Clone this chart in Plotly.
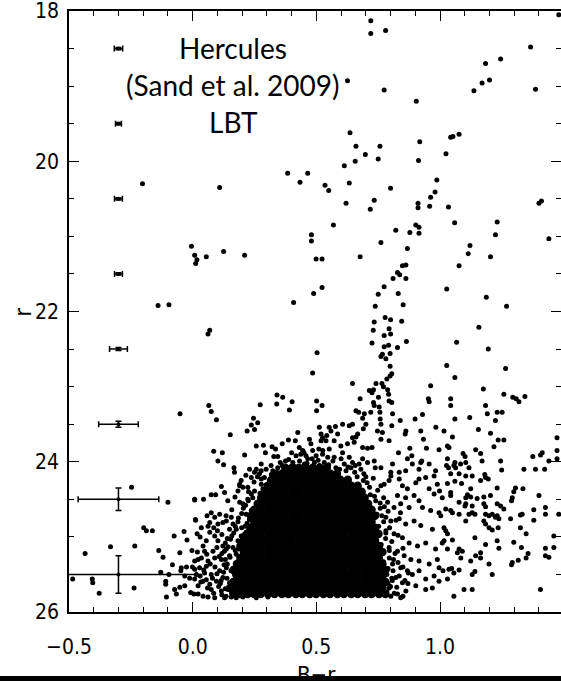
import plotly.graph_objects as go

# ---------------- data: (B-r, r) ----------------
upper_stars = [
(1.48,18.05),(0.72,18.13),(0.72,18.30),(0.78,18.26),(1.366,18.48),(1.245,18.64),(1.184,18.70),(1.20,18.92),(1.17,18.96),(1.137,19.06),(1.386,19.04),(0.626,18.93),(0.774,19.05),(0.904,19.20),
(0.636,19.62),(0.66,19.80),(0.757,19.80),(0.918,19.74),(1.043,19.68),(1.052,19.67),(1.077,19.64),(0.698,19.91),(0.657,20.00),(0.75,19.97),(0.913,19.99),(1.024,19.90),(0.613,20.06),
(0.384,20.16),(0.465,20.16),(0.434,20.28),(0.535,20.32),(0.55,20.39),(0.633,20.29),(0.80,20.36),(0.987,20.25),(0.98,20.41),(0.962,20.48),(0.958,20.60),(0.911,20.56),(0.911,20.62),(1.034,20.61),(0.734,20.52),(0.718,20.64),(0.62,20.56),(0.109,20.35),(1.40,20.56),(1.41,20.53),(1.44,21.03),
(0.569,20.85),(0.48,20.98),(0.48,21.06),(0.821,20.92),(0.878,20.95),(0.902,20.85),(0.915,20.88),(0.915,20.96),(1.059,20.82),(1.231,20.81),(1.224,20.98),(0.761,21.08),(0.868,21.16),(1.121,21.12),(1.114,21.23),(1.204,21.27),(0.677,21.27),(0.499,21.30),(0.523,21.30),(0.21,21.25),(0.125,21.20),(0.055,21.27),(-0.005,21.13),(0.008,21.25),(0.017,21.31),(0.012,21.36),
(1.077,21.39),(0.848,21.39),(0.862,21.38),(0.828,21.48),(0.837,21.51),(0.81,21.56),(0.862,21.56),(0.774,21.67),(0.831,21.76),(0.75,21.77),(0.523,21.68),(0.489,21.76),(1.027,21.70),(1.187,21.81),(0.408,21.88),(0.851,21.91),(0.738,21.93),(1.269,21.93),
(0.734,22.14),(0.73,22.25),(0.778,22.08),(0.80,22.11),(0.794,22.23),(0.80,22.30),(0.845,22.13),(0.774,22.32),(1.157,22.21),(0.069,22.25),(0.062,22.30),(-0.203,20.30),(-0.14,21.92),(-0.096,21.91),
]

middle_stars = [
(0.503,22.55),(0.485,22.82),(0.341,23.11),(0.364,23.14),(0.34,23.23),(0.402,23.20),(0.391,23.31),(0.501,23.19),(0.501,23.32),(0.523,23.25),(0.273,23.24),(0.065,23.25),(0.075,23.33),(0.096,23.44),(0.246,23.42),(0.237,23.51),(0.263,23.48),(0.25,23.57),(0.22,23.59),(0.152,23.64),(0.425,23.61),(0.387,23.71),(0.415,23.72),(0.362,23.76),(0.257,23.79),(0.286,23.78),(0.294,23.88),(0.321,23.80),(0.335,23.83),(0.328,23.93),(0.085,23.86),(0.12,23.88),(0.102,23.99),(0.125,24.04),(0.21,23.91),(0.167,24.08),(0.169,24.14),(0.344,23.93),(0.354,24.01),(0.375,23.99),(0.317,24.05),(0.472,23.70),(0.478,23.76),(0.519,23.72),(0.525,23.68),(0.542,23.65),(0.431,23.81),(0.445,23.85),(0.418,23.92),(0.458,23.92),(0.485,23.85),(0.257,24.10),(0.277,24.12),
(0.725,22.42),(0.774,22.47),(0.792,22.45),(0.828,22.48),(0.864,22.40),(1.067,22.41),(0.767,22.57),(0.761,22.60),(0.781,22.63),(0.798,22.56),(0.798,22.73),(0.805,22.83),(0.798,22.86),(0.785,22.90),(1.027,22.72),(1.06,22.88),(0.646,22.96),(0.741,22.96),(0.765,22.96),(0.771,23.00),(0.714,23.05),(0.725,23.08),(0.731,23.04),(0.788,23.04),(0.792,23.10),(0.751,23.14),(0.731,23.21),(0.734,23.25),(0.677,23.16),(0.962,22.99),(0.953,23.16),(0.956,23.20),(1.043,23.16),(1.043,23.25),(0.794,23.19),(0.805,23.21),(0.66,23.32),(0.671,23.34),(0.694,23.36),(0.72,23.34),(0.754,23.27),(0.757,23.34),(0.758,23.43),(0.761,23.50),(0.808,23.36),(0.805,23.52),(0.839,23.45),(0.899,23.43),(0.929,23.37),(1.06,23.43),(0.687,23.42),(0.70,23.50),(0.69,23.56),(0.606,23.50),(0.577,23.53),(0.552,23.54),(0.633,23.52),(0.646,23.50),(0.512,23.54),(0.519,23.63),(0.747,23.59),(0.767,23.61),(0.761,23.70),(0.794,23.72),(0.862,23.59),(0.859,23.63),(0.922,23.59),(0.933,23.70),(0.983,23.54),(1.016,23.59),(1.05,23.67),(1.03,23.79),(1.036,23.81),(0.996,23.84),(0.945,23.82),(0.878,23.82),(0.886,23.92),(0.832,23.88),(0.926,23.99),(0.922,24.01),(1.03,23.96),(1.034,24.08),(1.06,24.01),(1.056,24.05),(0.646,23.68),(0.66,23.67),(0.653,23.74),(0.687,23.81),(0.707,23.82),(0.725,23.81),(0.687,23.96),(0.673,24.03),(0.734,23.99),(0.761,24.08),(0.738,24.08),(0.646,24.01),(0.64,24.08),(0.657,24.05),
(0.539,23.72),(0.559,23.59),(0.572,23.72),(0.586,23.63),(0.599,23.79),(0.552,23.83),(0.525,23.90),(0.572,23.94),(0.606,23.88),(0.626,23.76),(0.667,23.63),(0.633,23.94),(0.539,24.08),(0.579,24.08),(0.613,24.03),(0.707,24.01),
(0.801,24.14),(0.835,24.14),(0.861,24.12),(0.888,24.03),(0.915,24.10),(0.956,24.03),(0.982,24.12),(0.808,24.03),(0.868,23.96),
(0.237,24.21),(0.277,24.23),(0.31,24.25),(0.344,24.21),(0.19,24.30),(0.223,24.34),(0.25,24.39),(0.284,24.36),(0.324,24.34),(0.351,24.39),
(0.277,24.03),(0.297,24.10),(0.324,24.12),(0.344,24.08),(0.371,24.12),(0.391,24.08),(0.405,24.01),(0.432,23.99),(0.452,24.03),(0.472,24.08),(0.492,24.01),(0.512,24.05),(0.532,24.01),(0.546,23.94),(0.526,23.85),(0.499,23.92),(0.465,23.96),(0.445,24.12),(0.418,24.14),(0.519,24.14),(0.539,24.12),(0.25,24.14),(0.23,24.10),
]

right_stars = [
(1.026,24.05),(1.063,24.08),(1.083,24.03),(1.117,24.08),(1.181,24.17),
(1.195,22.50),(1.265,22.76),(1.175,23.03),(1.258,23.10),(1.294,23.14),(1.308,23.16),(1.319,23.20),(1.343,23.13),(1.184,23.25),(1.231,23.34),(1.251,23.34),(1.191,23.36),(1.224,23.45),(1.12,23.41),(1.155,23.57),(1.204,23.62),(1.235,23.71),(1.258,23.71),(1.218,23.80),(1.473,23.68),(1.144,23.84),(1.164,23.89),(1.093,23.89),(1.101,23.93),(1.104,24.01),(1.17,23.99),(1.245,23.99),(1.249,24.11),(1.413,23.88),(1.406,23.91),(1.375,23.93),(1.44,23.99),(1.473,23.85),(1.473,23.96),(1.339,24.10),(1.386,24.10),(1.423,24.10),
(1.043,24.16),(1.077,24.16),(1.104,24.19),(1.13,24.19),(1.164,24.25),(1.184,24.21),(1.195,24.23),(1.03,24.29),(1.06,24.26),(1.087,24.29),
(1.124,24.36),(1.231,24.35),(1.305,24.35),(1.298,24.40),(1.335,24.36),(1.40,24.45),(0.998,24.39),
(1.043,24.41),(1.043,24.45),(1.009,24.48),(1.111,24.44),(1.104,24.48),(1.124,24.47),(1.15,24.49),(1.177,24.47),(1.204,24.45),(1.292,24.48),(1.289,24.52),(1.077,24.54),
(1.104,24.56),(1.101,24.59),(1.13,24.59),(1.177,24.56),(1.184,24.60),(1.231,24.56),(1.245,24.59),(1.258,24.63),(1.043,24.65),(1.05,24.68),(1.077,24.70),(0.996,24.68),(1.003,24.72),
(1.379,24.64),(1.379,24.78),(1.426,24.61),(1.426,24.70),(1.48,24.70),
(1.117,24.70),(1.104,24.79),(1.13,24.68),(1.141,24.70),(1.184,24.70),(1.198,24.72),(1.177,24.79),(1.184,24.83),(1.211,24.70),(1.224,24.74),(1.231,24.72),(1.238,24.76),(1.198,24.88),(1.211,24.91),(1.235,24.88),(1.285,24.76),(1.325,24.71),(1.325,24.88),(1.348,24.96),(1.332,24.70),
(1.016,24.88),(1.023,24.92),(1.03,24.96),
(1.016,25.05),(1.009,25.08),(1.05,25.04),(1.03,25.16),(1.141,25.01),(1.184,25.10),(1.231,25.05),(1.238,25.15),(1.298,25.07),(1.329,25.14),(1.356,25.22),(1.46,24.99),(1.46,25.14),(1.426,25.15),(1.426,25.25),(1.44,25.27),
(1.077,25.16),(1.09,25.19),(1.084,25.28),(1.07,25.21),(1.164,25.21),(1.144,25.25),(1.164,25.28),(1.124,25.32),(1.198,25.36),(1.211,25.50),
(1.292,25.34),(1.289,25.37),(1.316,25.31),(1.348,25.28),
(0.996,25.41),(1.012,25.45),(1.036,25.43),(1.047,25.42),(1.056,25.48),(1.077,25.44),(1.03,25.56),(1.13,25.50),(1.141,25.46),
(1.097,25.70),(1.13,25.70),(1.056,25.79),(1.406,25.70),
]

blob_right_edge = [
(0.761,24.32),(0.774,24.30),(0.801,24.19),(0.794,24.25),(0.835,24.23),(0.848,24.32),(0.868,24.36),(0.902,24.28),(0.915,24.23),(0.942,24.21),(0.976,24.19),(0.989,24.30),
(0.828,24.45),(0.861,24.48),(0.895,24.45),(0.915,24.52),(0.956,24.36),(0.976,24.43),(0.788,24.54),(0.814,24.61),(0.841,24.56),(0.875,24.61),(0.929,24.61),(0.962,24.65),(1.023,24.63),
(0.781,24.74),(0.801,24.79),(0.835,24.76),(0.861,24.83),(0.895,24.79),(0.922,24.85),(0.969,24.90),(0.781,24.92),(0.814,24.96),(0.848,25.01),(0.875,25.08),(0.909,25.12),(0.942,25.08),(0.982,25.16),(0.794,25.14),(0.828,25.19),(0.855,25.25),(0.882,25.30),(0.915,25.32),(0.956,25.36),(0.989,25.30),(0.808,25.36),(0.841,25.41),(0.868,25.45),
(0.821,25.54),(0.848,25.61),(0.888,25.50),(0.915,25.45),(0.942,25.56),(0.976,25.52),(0.996,25.59),(0.828,25.76),(0.841,25.81),(0.902,25.65),(0.942,25.70),(0.969,25.68),(0.794,25.68),(0.801,25.79),
]

blob_left_edge = [
(0.196,24.25),(0.19,24.32),(0.203,24.34),(0.183,24.39),(0.19,24.54),(0.203,24.56),(0.223,24.50),(0.243,24.48),(0.237,24.43),(0.27,24.16),(0.277,24.30),(0.29,24.21),(0.31,24.25),(0.304,24.43),(0.324,24.39),(0.264,24.54),(0.284,24.56),
(0.116,24.33),(0.129,24.41),(0.075,24.44),(0.093,24.44),(0.008,24.50),(0.044,24.50),
(0.075,24.68),(0.089,24.74),(0.109,24.70),(0.069,24.81),(0.102,24.83),(0.122,24.81),(0.136,24.79),(0.156,24.74),(0.163,24.83),(0.149,24.90),(0.176,24.90),(0.012,24.78),
(0.069,24.94),(0.089,24.99),(0.055,25.05),(0.042,25.12),(0.102,25.05),(0.122,25.12),(0.136,25.16),(0.082,25.19),(0.048,25.19),(0.035,25.28),(0.008,25.32),(0.089,25.28),(0.116,25.30),(0.149,25.25),(0.163,25.14),(0.183,25.05),(0.196,24.99),(0.216,24.94),(0.23,25.01),(0.25,24.94),(0.27,24.88),(0.29,24.83),(0.257,24.72),(0.237,24.65),(0.216,24.70),(0.27,24.65),(0.297,24.74),(0.311,24.63),(0.203,25.10),(0.223,25.19),(0.243,25.12),(0.264,25.08),(0.284,25.03),(0.304,24.96),(0.176,25.23),(0.196,25.30),(0.223,25.34),(0.257,25.28),(0.277,25.21),(0.304,25.16),
(0.028,25.41),(0.055,25.39),(0.048,25.48),(0.075,25.50),(0.042,25.59),(0.022,25.65),(0.069,25.63),(0.096,25.59),(0.109,25.45),(0.136,25.41),(0.122,25.54),(0.149,25.61),(0.169,25.50),(0.19,25.41),(0.21,25.48),(0.23,25.54),(0.25,25.45),(0.27,25.39),(0.29,25.45),(0.311,25.36),(0.183,25.63),(0.216,25.65),(0.257,25.61),(0.284,25.56),(0.311,25.65),(0.143,25.70),
(0.022,25.76),(0.042,25.79),(0.062,25.80),(0.089,25.81),(0.129,25.81),(0.156,25.80),(0.176,25.81),(0.203,25.80),(0.23,25.77),(0.257,25.81),(0.277,25.76),(0.304,25.80),(0.116,25.72),(0.196,25.72),(0.243,25.70),(0.29,25.70),
(0.035,24.88),(0.058,24.72),(0.03,25.00),(0.10,24.92),(0.118,25.22),(0.062,25.32),(0.09,25.40),(0.075,25.70),(0.105,25.66),(0.132,25.30),(0.14,25.02),(0.03,25.52),(0.055,25.57),(0.018,24.96),
]

blob_halo = [
(0.215,24.18),(0.262,24.20),(0.318,24.17),(0.341,24.28),(0.296,24.31),(0.248,24.27),(0.226,24.40),(0.272,24.42),(0.306,24.37),(0.329,24.46),
(0.142,24.52),(0.171,24.47),(0.214,24.58),(0.256,24.62),(0.289,24.49),(0.158,24.64),(0.198,24.69),(0.229,24.77),(0.268,24.75),(0.135,24.72),(0.183,24.80),(0.276,24.60),(0.247,24.84),(0.212,24.86),(0.166,24.95),
(0.062,24.86),(0.118,24.97),(0.153,25.03),(0.191,25.11),(0.228,25.06),(0.208,24.97),(0.172,25.18),(0.132,25.08),(0.098,25.14),(0.057,25.23),(0.085,24.88),(0.237,25.17),(0.207,25.24),(0.151,25.27),
(0.022,25.30),(0.045,25.44),(0.071,25.36),(0.098,25.49),(0.127,25.37),(0.155,25.45),(0.112,25.62),(0.139,25.55),(0.166,25.59),(0.182,25.33),(0.06,25.68),(0.085,25.75),(0.158,25.74),(0.135,25.79),(0.033,25.60),(0.178,25.67),(0.107,25.26),(0.015,25.50),(0.192,25.52),(0.08,25.55),
(0.362,24.05),(0.388,23.97),(0.41,24.06),(0.437,23.90),(0.462,24.02),(0.483,23.96),(0.507,23.98),(0.55,24.04),(0.567,23.99),(0.594,24.10),(0.62,24.12),(0.60,23.96),(0.628,24.07),(0.655,24.14),(0.68,24.10),(0.665,24.20),(0.69,24.25),(0.45,23.88),(0.40,23.88),(0.51,23.83),
(0.705,24.28),(0.73,24.22),(0.748,24.38),(0.718,24.44),(0.74,24.52),(0.772,24.48),(0.758,24.62),(0.79,24.66),(0.745,24.70),(0.772,24.80),(0.752,24.86),(0.796,24.88),(0.78,25.02),(0.805,25.06),(0.762,25.10),(0.818,25.22),(0.795,25.28),(0.772,25.33),(0.83,25.34),(0.81,25.45),(0.785,25.50),(0.835,25.52),(0.807,25.58),(0.858,25.58),(0.79,25.62),(0.825,25.67),(0.862,25.72),(0.815,25.75),(0.85,25.79),(0.872,25.48),(0.85,25.40),(0.87,25.62),(0.83,24.98),(0.85,25.15),(0.822,24.78),(0.84,24.68),
(0.692,24.16),(0.715,24.34),(0.735,24.46),(0.758,24.55),(0.765,24.72),(0.781,24.95),(0.795,25.18),(0.79,25.42),(0.805,25.55),(0.785,25.73),(0.80,25.66),(0.812,25.30),(0.775,24.60),(0.70,24.20),(0.722,24.62),
(0.225,24.52),(0.205,24.62),(0.185,24.75),(0.172,24.86),(0.158,24.99),(0.143,25.13),(0.128,25.19),(0.14,25.36),(0.125,25.47),(0.115,25.58),(0.132,25.69),(0.118,25.77),(0.198,24.88),(0.22,24.82),(0.185,25.16),
]

blue_stars = [
(-0.051,23.36),(-0.247,24.34),(-0.10,24.54),(0.008,24.51),(0.011,24.77),(-0.198,24.88),(-0.187,24.92),(-0.163,24.92),(-0.075,24.99),(-0.035,24.93),(-0.023,25.04),(-0.332,25.13),(-0.234,25.12),(-0.435,25.22),(-0.137,25.18),(-0.12,25.27),(-0.052,25.21),(-0.003,25.18),(0.019,25.20),
(-0.082,25.37),(-0.046,25.41),(-0.025,25.40),(-0.001,25.40),(0.008,25.43),(-0.129,25.47),(-0.096,25.50),(-0.048,25.45),(-0.032,25.52),(-0.012,25.55),(0.008,25.56),(-0.109,25.59),(-0.109,25.63),(-0.073,25.70),(-0.066,25.76),(-0.052,25.67),(-0.032,25.65),(-0.106,25.80),(-0.008,25.74),(0.005,25.76),
(-0.485,25.56),(-0.406,25.56),(-0.404,25.61),(-0.378,25.75),(-0.237,25.68),
]

# saturated core of the diagram: one list of B-r values per r row
core_row_r = [24.08,24.16,24.24,24.32,24.40,24.48,24.56,24.64,24.72,24.80,24.88,24.96,25.04,25.12,25.20,25.28,25.36,25.44,25.52,25.60,25.68,25.76]
core_row_br = [
[0.374,0.402,0.430,0.458,0.486,0.514,0.542],
[0.337,0.361,0.389,0.415,0.445,0.471,0.501,0.527,0.557,0.583],
[0.319,0.347,0.373,0.403,0.429,0.459,0.485,0.515,0.541,0.571,0.597,0.627],
[0.305,0.331,0.361,0.387,0.417,0.443,0.473,0.499,0.529,0.555,0.585,0.611,0.641,0.667],
[0.291,0.317,0.347,0.373,0.403,0.429,0.459,0.485,0.515,0.541,0.571,0.597,0.627,0.653,0.683],
[0.277,0.303,0.333,0.359,0.389,0.415,0.445,0.471,0.501,0.527,0.557,0.583,0.613,0.639,0.669,0.695],
[0.263,0.289,0.319,0.345,0.375,0.401,0.431,0.457,0.487,0.513,0.543,0.569,0.599,0.625,0.655,0.681,0.709],
[0.249,0.275,0.305,0.331,0.361,0.387,0.417,0.443,0.473,0.499,0.529,0.555,0.585,0.611,0.641,0.667,0.697,0.723],
[0.236,0.263,0.291,0.317,0.347,0.373,0.403,0.429,0.459,0.485,0.515,0.541,0.571,0.597,0.627,0.653,0.683,0.709,0.737],
[0.249,0.275,0.305,0.331,0.361,0.387,0.417,0.443,0.473,0.499,0.529,0.555,0.585,0.611,0.641,0.667,0.697,0.723],
[0.233,0.263,0.289,0.319,0.345,0.375,0.401,0.431,0.457,0.487,0.513,0.543,0.569,0.599,0.625,0.655,0.681,0.711,0.737],
[0.221,0.249,0.275,0.305,0.331,0.361,0.387,0.417,0.443,0.473,0.499,0.529,0.555,0.585,0.611,0.641,0.667,0.697,0.723,0.751],
[0.207,0.233,0.263,0.289,0.319,0.345,0.375,0.401,0.431,0.457,0.487,0.513,0.543,0.569,0.599,0.625,0.655,0.681,0.711,0.737],
[0.193,0.221,0.249,0.275,0.305,0.331,0.361,0.387,0.417,0.443,0.473,0.499,0.529,0.555,0.585,0.611,0.641,0.667,0.697,0.723,0.753],
[0.207,0.233,0.263,0.289,0.319,0.345,0.375,0.401,0.431,0.457,0.487,0.513,0.543,0.569,0.599,0.625,0.655,0.681,0.711,0.737,0.767],
[0.193,0.221,0.249,0.275,0.305,0.331,0.361,0.387,0.417,0.443,0.473,0.499,0.529,0.555,0.585,0.611,0.641,0.667,0.697,0.723,0.753],
[0.179,0.207,0.233,0.263,0.289,0.319,0.345,0.375,0.401,0.431,0.457,0.487,0.513,0.543,0.569,0.599,0.625,0.655,0.681,0.711,0.737,0.767],
[0.165,0.193,0.221,0.249,0.275,0.305,0.331,0.361,0.387,0.417,0.443,0.473,0.499,0.529,0.555,0.585,0.611,0.641,0.667,0.697,0.723,0.753,0.779],
[0.179,0.207,0.233,0.263,0.289,0.319,0.345,0.375,0.401,0.431,0.457,0.487,0.513,0.543,0.569,0.599,0.625,0.655,0.681,0.711,0.737,0.767],
[0.165,0.193,0.221,0.249,0.275,0.305,0.331,0.361,0.387,0.417,0.443,0.473,0.499,0.529,0.555,0.585,0.611,0.641,0.667,0.697,0.723,0.753,0.779],
[0.151,0.179,0.207,0.233,0.263,0.289,0.319,0.345,0.375,0.401,0.431,0.457,0.487,0.513,0.543,0.569,0.599,0.625,0.655,0.681,0.711,0.737,0.767],
[0.165,0.193,0.221,0.249,0.275,0.305,0.331,0.361,0.387,0.417,0.443,0.473,0.499,0.529,0.555,0.585,0.611,0.641,0.667,0.697,0.723,0.753,0.779],
]

# photometric error bars
err_r = [18.5, 19.5, 20.5, 21.5, 22.5, 23.5, 24.5, 25.5]
err_br = [-0.3] * 8
err_dbr = [0.017, 0.012, 0.016, 0.016, 0.036, 0.08, 0.163, 0.315]
err_dr = [0.015, 0.015, 0.015, 0.015, 0.02, 0.04, 0.15, 0.25]

x_tick_vals = [-0.5, 0.0, 0.5, 1.0]
x_tick_text = ["\u22120.5", "0.0", "0.5", "1.0"]
y_tick_vals = [18, 20, 22, 24, 26]
y_tick_text = ["18", "20", "22", "24", "26"]

label_lines = ["Hercules", "(Sand et al. 2009)", "LBT"]
label_r = [18.486, 18.979, 19.474]
label_br = 0.165

x_title = "B\u2212r"
y_title = "r"

# ---------------- figure ----------------
sx, sy = [], []
for group in (upper_stars, middle_stars, right_stars, blob_right_edge, blob_left_edge, blob_halo, blue_stars):
    sx += [p[0] for p in group]
    sy += [p[1] for p in group]

cx, cy = [], []
for rr, row in zip(core_row_r, core_row_br):
    cx += row
    cy += [rr] * len(row)

fig = go.Figure()
fig.add_trace(go.Scatter(x=cx, y=cy, mode="markers", hoverinfo="skip",
                         marker=dict(size=8.5, color="black", line=dict(width=0))))
fig.add_trace(go.Scatter(x=sx, y=sy, mode="markers", hoverinfo="skip",
                         marker=dict(size=5, color="black", line=dict(width=0))))
fig.add_trace(go.Scatter(x=err_br, y=err_r, mode="markers", hoverinfo="skip",
                         marker=dict(size=4, color="black"),
                         error_x=dict(type="data", array=err_dbr, color="black", thickness=1.5, width=3),
                         error_y=dict(type="data", array=err_dr, color="black", thickness=1.5, width=3)))

narrow = "Liberation Sans Narrow, DejaVu Sans Condensed, Liberation Sans, sans-serif"
tick_font = dict(family=narrow, size=21, color="black")

for txt, rr in zip(label_lines, label_r):
    fig.add_annotation(x=label_br, y=rr, xref="x", yref="y", text=txt, showarrow=False,
                       xanchor="center", yanchor="middle",
                       font=dict(family="Lato, Open Sans, sans-serif", size=28, color="black"))

# the page is cut at the bottom: a black band hides most of the x-axis title
fig.add_shape(type="rect", xref="paper", yref="paper", x0=-0.3, x1=1.2, y0=-0.3, y1=-0.1065,
              fillcolor="black", line=dict(width=0), layer="above")

# axis titles placed as annotations (x title runs below the page edge, as in the original)
fig.add_annotation(x=0.5, y=-0.0805, xref="x", yref="paper", text=x_title, showarrow=False,
                   xanchor="center", yanchor="top",
                   font=dict(family=narrow, size=22, color="black"))
fig.add_annotation(x=-0.0935, y=0.5, xref="paper", yref="paper", text=y_title, showarrow=False,
                   xanchor="center", yanchor="middle", textangle=-90,
                   font=dict(family=narrow, size=23, color="black"))

axis_common = dict(showline=True, linecolor="black", linewidth=1.5, mirror="ticks",
                   ticks="inside", ticklen=10, tickwidth=1, tickcolor="black", automargin=False,
                   showgrid=False, zeroline=False, tickfont=tick_font, ticklabeloverflow="allow")

fig.update_layout(
    width=561, height=681,
    margin=dict(l=69, r=0, t=11, b=69, autoexpand=False),
    paper_bgcolor="white", plot_bgcolor="white",
    showlegend=False,
    xaxis=dict(range=[-0.5, 1.489], tickmode="array", tickvals=x_tick_vals, ticktext=x_tick_text,
               minor=dict(tickmode="linear", tick0=0, dtick=0.1, ticks="inside", ticklen=5,
                          tickcolor="black", tickwidth=1, showgrid=False),
               ticklabelstandoff=15,
               **axis_common),
    yaxis=dict(range=[26.0, 18.0], tickmode="array", tickvals=y_tick_vals, ticktext=y_tick_text,
               minor=dict(tickmode="linear", tick0=18, dtick=0.5, ticks="inside", ticklen=5,
                          tickcolor="black", tickwidth=1, showgrid=False),
               ticklabelstandoff=4,
               **axis_common),
)

fig.write_html("out.html")
